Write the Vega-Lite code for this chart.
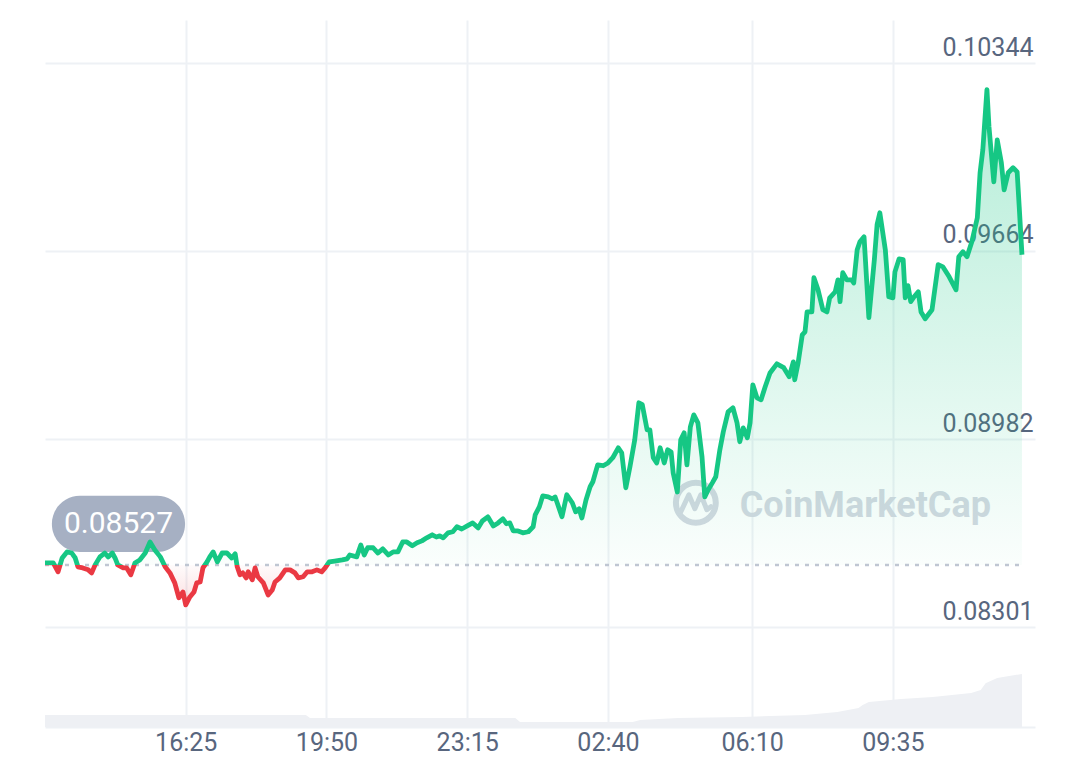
{
  "$schema": "https://vega.github.io/schema/vega-lite/v6.json",
  "width": 990,
  "height": 707,
  "autosize": "none",
  "padding": {"top": 20, "left": 45, "right": 45, "bottom": 50},
  "background": "#ffffff",
  "config": {"view": {"stroke": null}, "font": "Roboto"},
  "datasets": {
    "price": [
      {"m":0,"p":0.08534},{"m":12,"p":0.08534},{"m":19,"p":0.08502},{"m":25,"p":0.08552},{"m":32,"p":0.08574},{"m":39,"p":0.08570},{"m":44,"p":0.08552},{"m":48,"p":0.08520},{"m":55,"p":0.08516},{"m":63,"p":0.08509},
      {"m":68,"p":0.08498},{"m":73,"p":0.08527},{"m":80,"p":0.08556},{"m":87,"p":0.08570},{"m":92,"p":0.08556},{"m":98,"p":0.08570},{"m":102,"p":0.08552},{"m":106,"p":0.08527},{"m":114,"p":0.08516},{"m":119,"p":0.08516},
      {"m":125,"p":0.08491},{"m":131,"p":0.08534},{"m":138,"p":0.08545},{"m":146,"p":0.08570},{"m":153,"p":0.08610},{"m":160,"p":0.08581},{"m":168,"p":0.08556},{"m":175,"p":0.08520},{"m":182,"p":0.08498},{"m":189,"p":0.08462},
      {"m":195,"p":0.08408},{"m":201,"p":0.08429},{"m":205,"p":0.08382},{"m":211,"p":0.08411},{"m":217,"p":0.08429},{"m":221,"p":0.08462},{"m":226,"p":0.08465},{"m":230,"p":0.08516},{"m":236,"p":0.08538},{"m":240,"p":0.08556},
      {"m":245,"p":0.08574},{"m":251,"p":0.08538},{"m":258,"p":0.08570},{"m":265,"p":0.08570},{"m":272,"p":0.08552},{"m":277,"p":0.08567},{"m":280,"p":0.08520},{"m":284,"p":0.08491},{"m":288,"p":0.08498},{"m":293,"p":0.08480},
      {"m":296,"p":0.08502},{"m":302,"p":0.08473},{"m":306,"p":0.08516},{"m":310,"p":0.08484},{"m":318,"p":0.08462},{"m":325,"p":0.08418},{"m":331,"p":0.08436},{"m":335,"p":0.08465},{"m":342,"p":0.08480},{"m":350,"p":0.08509},
      {"m":357,"p":0.08509},{"m":364,"p":0.08498},{"m":369,"p":0.08480},{"m":376,"p":0.08484},{"m":382,"p":0.08502},{"m":389,"p":0.08502},{"m":396,"p":0.08509},{"m":403,"p":0.08502},{"m":408,"p":0.08516},{"m":414,"p":0.08538},
      {"m":422,"p":0.08541},{"m":433,"p":0.08545},{"m":440,"p":0.08549},{"m":444,"p":0.08563},{"m":454,"p":0.08556},{"m":460,"p":0.08599},{"m":465,"p":0.08563},{"m":470,"p":0.08589},{"m":478,"p":0.08589},{"m":485,"p":0.08570},
      {"m":492,"p":0.08585},{"m":500,"p":0.08563},{"m":507,"p":0.08574},{"m":514,"p":0.08574},{"m":521,"p":0.08610},{"m":527,"p":0.08610},{"m":535,"p":0.08596},{"m":542,"p":0.08607},{"m":549,"p":0.08614},{"m":556,"p":0.08625},
      {"m":564,"p":0.08636},{"m":570,"p":0.08628},{"m":575,"p":0.08632},{"m":580,"p":0.08625},{"m":587,"p":0.08643},{"m":594,"p":0.08647},{"m":600,"p":0.08665},{"m":607,"p":0.08657},{"m":615,"p":0.08668},{"m":623,"p":0.08679},
      {"m":631,"p":0.08661},{"m":637,"p":0.08686},{"m":645,"p":0.08701},{"m":653,"p":0.08668},{"m":660,"p":0.08679},{"m":667,"p":0.08694},{"m":672,"p":0.08676},{"m":677,"p":0.08679},{"m":682,"p":0.08650},{"m":689,"p":0.08650},
      {"m":696,"p":0.08643},{"m":704,"p":0.08647},{"m":711,"p":0.08665},{"m":714,"p":0.08708},{"m":720,"p":0.08737},{"m":725,"p":0.08777},{"m":733,"p":0.08773},{"m":739,"p":0.08766},{"m":743,"p":0.08773},{"m":746,"p":0.08752},
      {"m":753,"p":0.08701},{"m":760,"p":0.08781},{"m":768,"p":0.08752},{"m":773,"p":0.08719},{"m":778,"p":0.08730},{"m":782,"p":0.08697},{"m":788,"p":0.08762},{"m":794,"p":0.08810},{"m":798,"p":0.08828},{"m":805,"p":0.08889},
      {"m":813,"p":0.08886},{"m":820,"p":0.08896},{"m":827,"p":0.08915},{"m":835,"p":0.08951},{"m":840,"p":0.08933},{"m":846,"p":0.08806},{"m":852,"p":0.08882},{"m":859,"p":0.08980},{"m":865,"p":0.09114},{"m":870,"p":0.09107},
      {"m":877,"p":0.09016},{"m":881,"p":0.09016},{"m":886,"p":0.08915},{"m":891,"p":0.08896},{"m":896,"p":0.08951},{"m":902,"p":0.08896},{"m":907,"p":0.08944},{"m":912,"p":0.08936},{"m":915,"p":0.08860},{"m":921,"p":0.08791},
      {"m":926,"p":0.08980},{"m":931,"p":0.09005},{"m":935,"p":0.08889},{"m":940,"p":0.09027},{"m":945,"p":0.09070},{"m":951,"p":0.09041},{"m":957,"p":0.08918},{"m":961,"p":0.08773},{"m":966,"p":0.08799},{"m":972,"p":0.08824},
      {"m":977,"p":0.08846},{"m":983,"p":0.08944},{"m":988,"p":0.09009},{"m":995,"p":0.09081},{"m":1002,"p":0.09096},{"m":1008,"p":0.09041},{"m":1012,"p":0.08973},{"m":1017,"p":0.09023},{"m":1023,"p":0.08987},{"m":1027,"p":0.09041},
      {"m":1031,"p":0.09179},{"m":1037,"p":0.09132},{"m":1043,"p":0.09125},{"m":1049,"p":0.09172},{"m":1056,"p":0.09222},{"m":1066,"p":0.09255},{"m":1076,"p":0.09241},{"m":1084,"p":0.09208},{"m":1090,"p":0.09262},{"m":1092,"p":0.09197},
      {"m":1097,"p":0.09259},{"m":1103,"p":0.09360},{"m":1107,"p":0.09371},{"m":1110,"p":0.09443},{"m":1117,"p":0.09443},{"m":1120,"p":0.09567},{"m":1126,"p":0.09523},{"m":1133,"p":0.09451},{"m":1139,"p":0.09443},{"m":1143,"p":0.09494},
      {"m":1151,"p":0.09516},{"m":1155,"p":0.09559},{"m":1158,"p":0.09480},{"m":1162,"p":0.09585},{"m":1168,"p":0.09559},{"m":1175,"p":0.09559},{"m":1178,"p":0.09548},{"m":1183,"p":0.09668},{"m":1187,"p":0.09697},{"m":1193,"p":0.09715},
      {"m":1200,"p":0.09422},{"m":1208,"p":0.09632},{"m":1212,"p":0.09759},{"m":1216,"p":0.09802},{"m":1224,"p":0.09668},{"m":1229,"p":0.09498},{"m":1235,"p":0.09494},{"m":1238,"p":0.09588},{"m":1244,"p":0.09635},{"m":1250,"p":0.09632},
      {"m":1253,"p":0.09494},{"m":1257,"p":0.09538},{"m":1261,"p":0.09480},{"m":1266,"p":0.09498},{"m":1272,"p":0.09516},{"m":1276,"p":0.09443},{"m":1282,"p":0.09418},{"m":1292,"p":0.09451},{"m":1301,"p":0.09614},{"m":1308,"p":0.09606},
      {"m":1317,"p":0.09570},{"m":1327,"p":0.09523},{"m":1331,"p":0.09643},{"m":1337,"p":0.09661},{"m":1343,"p":0.09643},{"m":1350,"p":0.09697},{"m":1358,"p":0.09784},{"m":1362,"p":0.09947},{"m":1366,"p":0.10030},{"m":1372,"p":0.10248},
      {"m":1375,"p":0.10113},{"m":1382,"p":0.09914},{"m":1387,"p":0.10066},{"m":1393,"p":0.09983},{"m":1397,"p":0.09885},{"m":1403,"p":0.09947},{"m":1410,"p":0.09965},{"m":1416,"p":0.09950},{"m":1419,"p":0.09824},{"m":1423,"p":0.09650}
    ],
    "volume": [
      {"m":0,"v":8.5},{"m":380,"v":8.5},{"m":386,"v":6.4},{"m":685,"v":6.4},{"m":692,"v":3.5},{"m":856,"v":3.5},{"m":867,"v":5.0},{"m":922,"v":6.4},{"m":1015,"v":7.1},{"m":1107,"v":8.5},{"m":1154,"v":10.6},{"m":1185,"v":13.5},{"m":1191,"v":15.6},{"m":1200,"v":17.7},{"m":1247,"v":19.8},{"m":1293,"v":21.2},{"m":1349,"v":24.0},{"m":1363,"v":26.2},{"m":1370,"v":31.0},{"m":1387,"v":34.7},{"m":1423,"v":37.5}
    ],
    "base": [{"m":0,"m2":1423,"p":0.08527}],
    "pill": [{"m":10,"m2":204,"p":0.08574,"p2":0.08777,"label":"0.08527","mc":107,"pc":0.08676}],
    "mark": [{"m":948,"p":0.08752,"mt":1012,"pt":0.08741,"label":"CoinMarketCap"}]
  },
  "encoding": {
    "x": {
      "field": "m",
      "type": "quantitative",
      "scale": {"domain": [0, 1442], "nice": false, "zero": false},
      "axis": {
        "title": null,
        "values": [205, 410, 615, 820, 1030, 1235],
        "labelExpr": "timeFormat(datetime(2024,0,1,13,datum.value),'%H:%M')",
        "grid": true,
        "gridColor": "#eef1f5",
        "gridWidth": 2,
        "ticks": false,
        "domain": true,
        "domainColor": "#eef1f5",
        "domainWidth": 2,
        "labelFont": "Roboto",
        "labelFontSize": 25,
        "labelColor": "#58667e",
        "labelBaseline": "alphabetic",
        "labelPadding": 23,
        "labelFlush": false,
        "labelOverlap": false
      }
    }
  },
  "layer": [
    {
      "data": {"name": "volume"},
      "mark": {"type": "area", "color": "#eef0f4", "interpolate": "linear"},
      "encoding": {
        "y": {"field": "v", "type": "quantitative", "scale": {"domain": [0, 500]}, "axis": null}
      }
    },
    {
      "encoding": {
        "y": {
          "field": "p",
          "type": "quantitative",
          "scale": {"domain": [0.0794, 0.105], "nice": false, "zero": false},
          "axis": {
            "orient": "right",
            "title": null,
            "values": [0.08301, 0.08982, 0.09664, 0.10344],
            "format": ".5f",
            "grid": true,
            "gridColor": "#eef1f5",
            "gridWidth": 2,
            "ticks": false,
            "tickSize": 0,
            "domain": false,
            "labelFont": "Roboto",
            "labelFontSize": 25,
            "labelColor": "#58667e",
            "labelAlign": "right",
            "labelBaseline": "alphabetic",
            "labelOffset": -8,
            "labelPadding": -2,
            "labelFlush": false,
            "labelOverlap": false
          }
        }
      },
      "layer": [
        {
          "data": {"name": "pill"},
          "mark": {"type": "bar", "color": "#a6b0c3", "cornerRadius": 28},
          "encoding": {"x2": {"field": "m2"}, "y2": {"field": "p2"}}
        },
        {
          "data": {"name": "mark"},
          "mark": {"type": "point", "shape": "circle", "filled": false, "size": 1590, "stroke": "#d3d8e1", "strokeWidth": 6, "opacity": 1}
        },
        {
          "data": {"name": "mark"},
          "mark": {"type": "point", "shape": "M-0.75,0.45 L-0.35,-0.4 L-0.05,0.3 L0.25,-0.4 L0.55,0.35 L0.75,0.2", "filled": false, "size": 1600, "stroke": "#d3d8e1", "strokeWidth": 5, "strokeJoin": "round", "strokeCap": "round", "opacity": 1}
        },
        {
          "data": {"name": "mark"},
          "mark": {"type": "text", "align": "left", "baseline": "middle", "font": "Roboto", "fontSize": 36, "fontWeight": "bold", "color": "#d3d8e1"},
          "encoding": {"x": {"field": "mt", "type": "quantitative"}, "y": {"field": "pt", "type": "quantitative"}, "text": {"field": "label"}}
        },
        {
          "data": {"name": "price"},
          "mark": {
            "type": "area",
            "line": false,
            "fill": {
              "gradient": "linear", "x1": 0, "y1": 0, "x2": 0, "y2": 1,
              "stops": [
                {"offset": 0, "color": "rgba(22,199,132,0.32)"},
                {"offset": 0.9223, "color": "rgba(22,199,132,0.02)"},
                {"offset": 0.9223, "color": "rgba(234,57,67,0.02)"},
                {"offset": 1, "color": "rgba(234,57,67,0.16)"}
              ]
            }
          },
          "encoding": {"y2": {"datum": 0.08527}}
        },
        {
          "data": {"name": "base"},
          "mark": {"type": "rule", "color": "#bfc6d2", "strokeWidth": 2.5, "strokeDash": [4, 6]},
          "encoding": {"x2": {"field": "m2"}}
        },
        {
          "data": {"name": "price"},
          "mark": {
            "type": "line",
            "strokeWidth": 4.8,
            "strokeJoin": "round",
            "stroke": {
              "gradient": "linear", "x1": 0, "y1": 0, "x2": 0, "y2": 1,
              "stops": [
                {"offset": 0, "color": "#16c784"},
                {"offset": 0.9223, "color": "#16c784"},
                {"offset": 0.9223, "color": "#ea3943"},
                {"offset": 1, "color": "#ea3943"}
              ]
            }
          }
        },
        {
          "data": {"name": "pill"},
          "mark": {"type": "text", "align": "center", "baseline": "middle", "font": "Roboto", "fontSize": 30, "color": "#ffffff"},
          "encoding": {"x": {"field": "mc", "type": "quantitative"}, "y": {"field": "pc", "type": "quantitative"}, "text": {"field": "label"}}
        }
      ]
    }
  ],
  "resolve": {"scale": {"y": "independent"}}
}
